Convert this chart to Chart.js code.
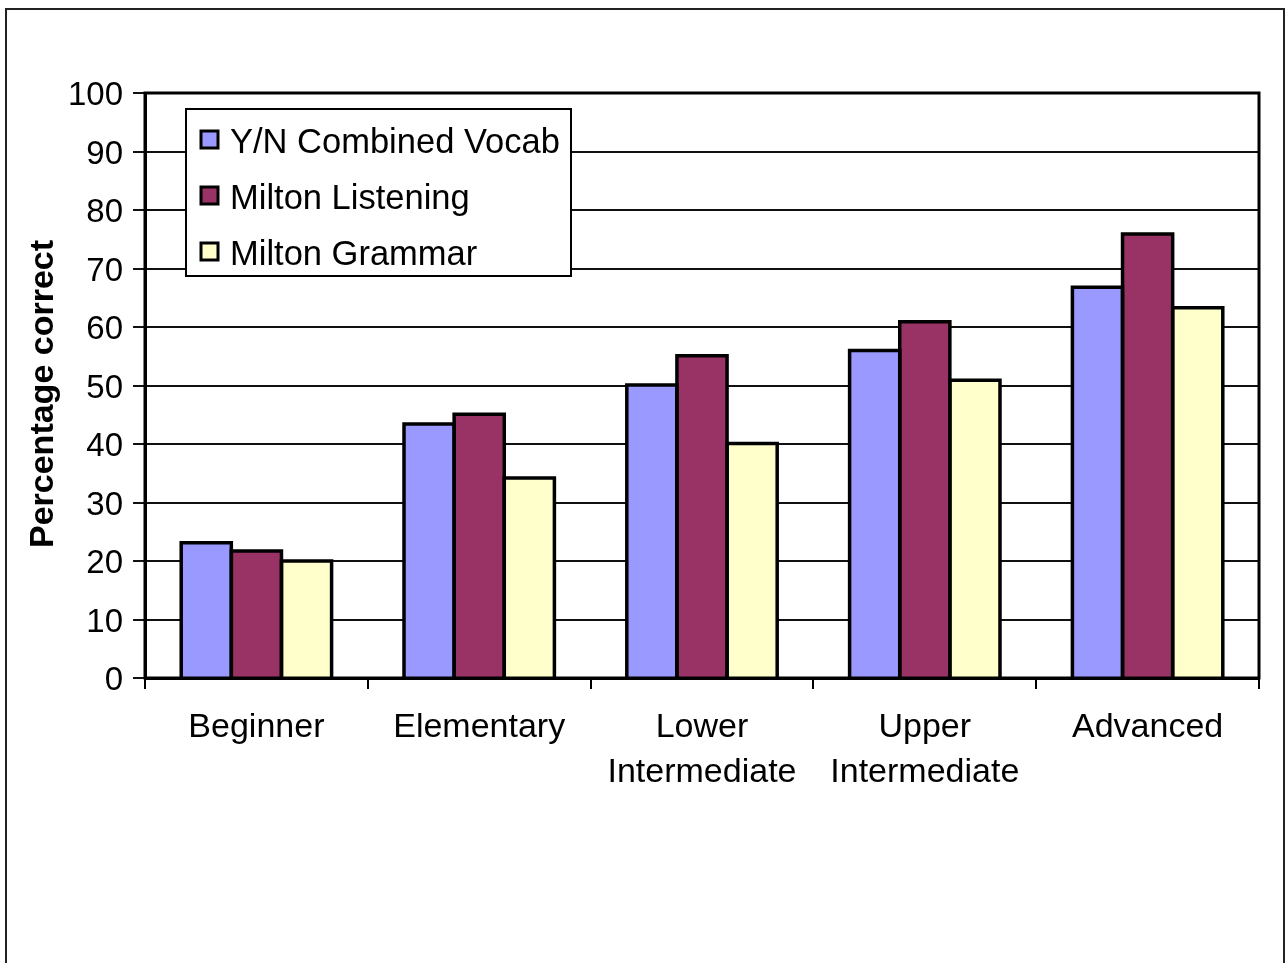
<!DOCTYPE html>
<html>
<head>
<meta charset="utf-8">
<title>Percentage correct by level</title>
<script src="https://cdn.jsdelivr.net/npm/chart.js@4.4.1/dist/chart.umd.min.js"></script>
<style>
  html, body { margin: 0; padding: 0; background: #fff; }
  canvas { display: block; }
</style>
</head>
<body>
<canvas id="levelChart" width="1286" height="963"></canvas>
<script>
// Levels and scores (percentage correct)
const levels = ['Beginner', 'Elementary', ['Lower', 'Intermediate'], ['Upper', 'Intermediate'], 'Advanced'];
const vocabScores = [23.1, 43.4, 50.1, 56.0, 66.8];
const listeningScores = [21.7, 45.1, 55.1, 60.9, 75.9];
const grammarScores = [20.0, 34.2, 40.1, 50.9, 63.3];
const seriesNames = ['Y/N Combined Vocab', 'Milton Listening', 'Milton Grammar'];
const yTicks = [0, 10, 20, 30, 40, 50, 60, 70, 80, 90, 100];
const yTitle = 'Percentage correct';

const FONT = "'Liberation Sans', Arial, sans-serif";

// Outer frame around the whole figure
const framePlugin = {
    id: 'frame',
    beforeDraw: function(chart) {
        const ctx = chart.ctx;
        ctx.save();
        ctx.strokeStyle = '#222';
        ctx.lineWidth = 2;
        ctx.beginPath();
        ctx.moveTo(6, chart.height + 5);
        ctx.lineTo(6, 9);
        ctx.lineTo(1284, 9);
        ctx.lineTo(1284, chart.height + 5);
        ctx.stroke();

        // rotated y axis title
        ctx.translate(44, 394);
        ctx.rotate(-Math.PI / 2);
        ctx.font = 'bold 34px ' + FONT;
        ctx.fillStyle = '#000';
        ctx.textAlign = 'center';
        ctx.textBaseline = 'middle';
        ctx.fillText(yTitle, 0, 0);
        ctx.restore();
    }
};

// Heavy black outline on every bar, centred on the bar edges so
// neighbouring bars share one line
const barOutlinePlugin = {
    id: 'barOutline',
    afterDatasetsDraw: function(chart) {
        const ctx = chart.ctx;
        ctx.save();
        ctx.strokeStyle = '#000';
        ctx.lineWidth = 3.5;
        ctx.lineJoin = 'miter';
        chart.data.datasets.forEach(function(ds, i) {
            chart.getDatasetMeta(i).data.forEach(function(bar) {
                const p = bar.getProps(['x', 'y', 'base', 'width'], true);
                const left = p.x - p.width / 2;
                const right = p.x + p.width / 2;
                ctx.beginPath();
                ctx.moveTo(left, p.base);
                ctx.lineTo(left, p.y);
                ctx.lineTo(right, p.y);
                ctx.lineTo(right, p.base);
                ctx.stroke();
            });
        });
        ctx.restore();
    }
};

// Box round the plot area plus the boxed legend sitting inside it
const plotBoxPlugin = {
    id: 'plotBox',
    afterDraw: function(chart) {
        const ctx = chart.ctx;
        const a = chart.chartArea;
        ctx.save();
        ctx.strokeStyle = '#000';
        ctx.lineWidth = 3;
        ctx.strokeRect(a.left, a.top, a.right - a.left, a.bottom - a.top);

        // legend
        const lx = 186, ly = 109, lw = 385, lh = 167;
        ctx.fillStyle = '#fff';
        ctx.fillRect(lx, ly, lw, lh);
        ctx.lineWidth = 2;
        ctx.strokeRect(lx, ly, lw, lh);

        ctx.font = '34.5px ' + FONT;
        ctx.textBaseline = 'middle';
        chart.data.datasets.forEach(function(ds, i) {
            const cy = 140 + i * 56;
            ctx.fillStyle = ds.backgroundColor;
            ctx.fillRect(201, cy - 9, 17, 17);
            ctx.lineWidth = 3;
            ctx.strokeStyle = '#000';
            ctx.strokeRect(201, cy - 9, 17, 17);
            ctx.fillStyle = '#000';
            ctx.fillText(ds.label, 230, cy + 3);
        });
        ctx.restore();
    }
};

const ctx = document.getElementById('levelChart').getContext('2d');

new Chart(ctx, {
    type: 'bar',
    data: {
        labels: levels,
        datasets: [{
            label: seriesNames[0],
            data: vocabScores,
            backgroundColor: '#9999FF'
        }, {
            label: seriesNames[1],
            data: listeningScores,
            backgroundColor: '#993366'
        }, {
            label: seriesNames[2],
            data: grammarScores,
            backgroundColor: '#FFFFCC'
        }]
    },
    options: {
        responsive: false,
        animation: false,
        datasets: {
            bar: {
                categoryPercentage: 0.675,
                barPercentage: 1.0,
                borderWidth: 0,
                inflateAmount: 0
            }
        },
        layout: {
            padding: { top: 93, right: 27, left: 0, bottom: 0 }
        },
        plugins: {
            legend: { display: false },
            tooltip: { enabled: false }
        },
        scales: {
            x: {
                grid: {
                    offset: true,
                    drawOnChartArea: false,
                    color: '#000',
                    lineWidth: 2,
                    tickLength: 11
                },
                border: { color: '#000', width: 3 },
                ticks: {
                    color: '#000',
                    padding: 16,
                    maxRotation: 0,
                    autoSkip: false,
                    font: { family: FONT, size: 34, lineHeight: 1.33 }
                },
                afterFit: function(scale) {
                    scale.height = 285;
                }
            },
            y: {
                min: 0,
                max: 100,
                afterBuildTicks: function(scale) {
                    scale.ticks = yTicks.map(v => ({ value: v }));
                },
                grid: {
                    color: '#111',
                    lineWidth: 2,
                    tickLength: 12
                },
                border: { color: '#000', width: 3 },
                ticks: {
                    color: '#000',
                    padding: 10,
                    labelOffset: 3,
                    font: { family: FONT, size: 33 }
                },
                afterFit: function(scale) {
                    scale.width = 145;
                }
            }
        }
    },
    plugins: [framePlugin, barOutlinePlugin, plotBoxPlugin]
});
</script>
</body>
</html>
